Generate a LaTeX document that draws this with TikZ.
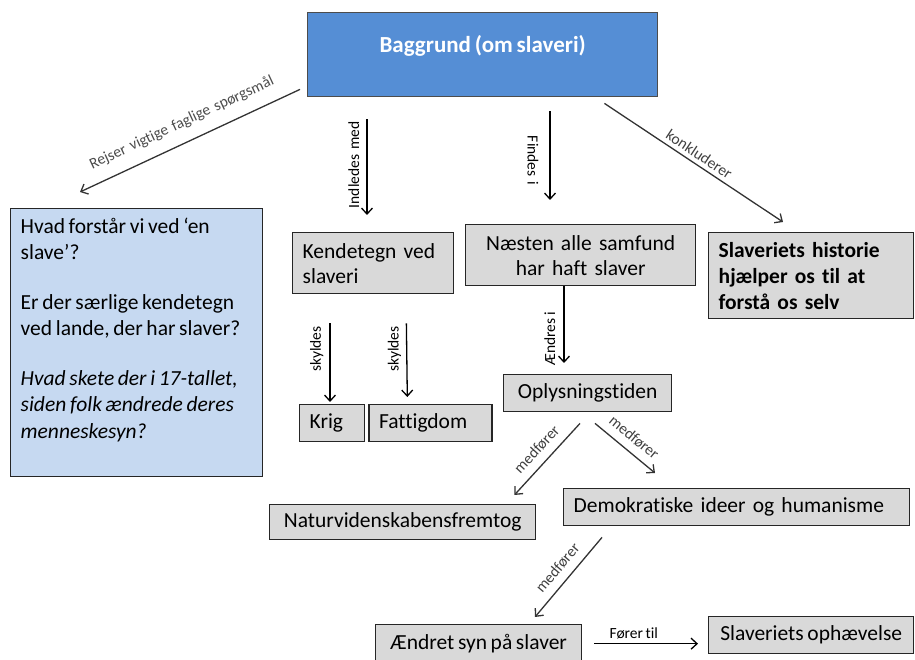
\documentclass[tikz,border=0pt]{standalone}
\usepackage{fontspec}
\setmainfont{Carlito}[Ligatures=NoCommon, WordSpace=0.75]
\usetikzlibrary{positioning,arrows.meta}
\definecolor{topblue}{HTML}{558ED5}
\definecolor{qblue}{HTML}{C6D9F1}
\definecolor{boxgray}{HTML}{D9D9D9}

\begin{document}
\begin{tikzpicture}[x=1pt, y=1pt,
  box/.style={draw=black!85, line width=1.4pt, fill=boxgray, anchor=north west,
    inner xsep=10pt, inner ysep=0pt, font=\fontsize{21.5}{25}\selectfont},
  lbl/.style={font=\fontsize{15.5}{17}\selectfont},
  arr/.style={line width=1.3pt, -{Straight Barb[length=6pt,width=11pt]}}]
\useasboundingbox (0,0) rectangle (915,660);

% Baggrund
\node[box, fill=topblue, draw=black!70, minimum width=350pt, minimum height=84pt]
  (top) at (307,648) {};
\node[font=\fontsize{23}{28}\selectfont\bfseries, text=white]
  (title) at ([yshift=9pt]top.center) {Baggrund (om slaveri)};

% spoergsmaal
\node[box, fill=qblue, inner ysep=9pt]
  (q) at (10,452) {\parbox[t][250pt][t]{232pt}{\fontsize{21.5}{26.5}\selectfont
  Hvad forstår vi ved ‘en\\ slave’?\\[23pt]
  Er der særlige kendetegn\\ ved lande, der har slaver?\\[23pt]
  {\itshape Hvad skete der i 17-tallet,\\ siden folk ændrede deres\\ menneskesyn?}}};
\draw[arr, black!80] ([xshift=-7pt,yshift=8pt]top.south west)
  -- node[lbl, sloped, above, inner sep=12pt, text=black!70] (rejser) {Rejser\ \ vigtige\ \ faglige\ \ spørgsmål}
  ([xshift=70pt,yshift=16pt]q.north west);

% kendetegn
\node[box, text width=141pt, minimum height=61pt, align=left]
  (kende) at (292,428) {Kendetegn ved\\ slaveri};
\draw[arr, shorten <=22pt, shorten >=17pt] ([xshift=60pt]top.south west)
  -- node[lbl, rotate=90, anchor=south, inner sep=7pt] (indledes) {Indledes\ \ med}
  ([xshift=75pt]kende.north west);

% naesten alle samfund
\node[box, text width=210pt, minimum height=61pt, align=center]
  (naesten) at (465,436) {Næsten alle samfund\\ har haft slaver};
\draw[arr, shorten <=14pt, shorten >=24pt] ([xshift=243pt]top.south west)
  -- node[lbl, rotate=-90, anchor=north, inner sep=11pt] (findes) {Findes\ \ i}
  ([xshift=85pt]naesten.north west);

% historie
\node[box, text width=185pt, minimum height=86pt, align=left,
  font=\fontsize{21.5}{26}\selectfont\bfseries]
  (hist) at (708,428) {Slaveriets historie\\ hjælper os til at\\ forstå os selv};
\draw[arr, black!80] ([xshift=-54pt,yshift=-6pt]top.south east)
  -- node[lbl, sloped, above, inner sep=4pt, text=black!75] (konkl) {konkluderer}
  ([xshift=75pt,yshift=10pt]hist.north west);

% krig og fattigdom
\node[box, text width=45pt, minimum height=37pt, align=left]
  (krig) at (299,256) {Krig};
\node[box, text width=103pt, minimum height=37pt, align=left, right=3pt of krig]
  (fattig) {Fattigdom};
\draw[arr, shorten <=29pt, shorten >=2pt] ([xshift=38pt]kende.south west)
  -- node[lbl, rotate=90, anchor=south, inner sep=6pt] (skyld1) {skyldes}
  ([xshift=31pt]krig.north west);
\draw[arr, shorten <=29pt, shorten >=7pt] ([xshift=114pt]kende.south west)
  -- node[lbl, rotate=90, anchor=south, inner sep=5pt] (skyld2) {skyldes}
  ([xshift=39pt]fattig.north west);

% oplysningstiden
\node[box, minimum width=168pt, minimum height=37pt]
  (oplys) at (503,286) {Oplysningstiden};
\draw[arr, shorten >=11pt] ([xshift=99pt]naesten.south west)
  -- node[lbl, pos=0.6, rotate=90, anchor=south, inner sep=8pt] (aendres) {Ændres i}
  ([xshift=61pt]oplys.north west);

% naturvidenskab og demokrati
\node[box, minimum width=266pt, minimum height=35pt]
  (natur) at (269,156) {Naturvidenskabensfremtog};
\node[box, text width=326pt, minimum height=37pt, align=left]
  (demo) at (563,172) {Demokratiske ideer og humanisme};
\draw[arr, black!80] ([xshift=77pt,yshift=-11pt]oplys.south west)
  -- node[lbl, sloped, above, inner sep=8pt, text=black!75] (medf1) {medfører}
  ([xshift=-22pt,yshift=9pt]natur.north east);
\draw[arr, black!80] ([xshift=92pt,yshift=-11pt]oplys.south west)
  -- node[lbl, sloped, above, inner sep=8pt, text=black!75] (medf2) {medfører}
  ([xshift=92pt,yshift=15pt]demo.north west);

% aendret syn og ophaevelse
\node[box, minimum width=206pt, minimum height=38pt]
  (aendret) at (375,36) {Ændret syn på slaver};
\node[box, minimum width=205pt, minimum height=37pt]
  (ophaev) at (708,44) {Slaveriets ophævelse};
\draw[arr, black!80] ([xshift=39pt,yshift=-11pt]demo.south west)
  -- node[lbl, sloped, above, inner sep=8pt, text=black!75] (medf3) {medfører}
  ([xshift=160pt,yshift=7pt]aendret.north west);
\draw[arr] ([xshift=12pt]aendret.east)
  -- node[lbl, pos=0.38, above, inner sep=4pt] (foerer) {Fører til}
  ([xshift=-10pt]aendret.east -| ophaev.west);
\end{tikzpicture}
\end{document}
